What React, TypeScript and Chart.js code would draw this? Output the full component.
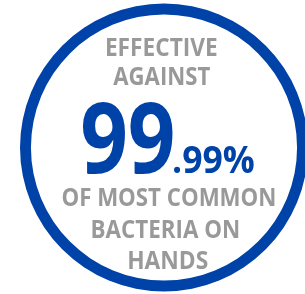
import React, { useEffect, useRef } from 'react';
import { Chart, registerables } from 'chart.js';

Chart.register(...registerables);

// ---- data ----
const ringLabels = ['Effective against bacteria'];
const ringValues = [100];
const headlineLines = ['EFFECTIVE', 'AGAINST'];
const percentWhole = '99';
const percentFraction = '.99%';
const footerLines = ['OF MOST COMMON', 'BACTERIA ON', 'HANDS'];

const BLUE = '#0043a8';
const GREY = '#999999';
const FAMILY = '"Open Sans", "Noto Sans", sans-serif';

type Box = { left: number; right: number; baseline: number; height: number };

function drawFitted(ctx: CanvasRenderingContext2D, text: string, box: Box, color: string) {
  ctx.save();
  ctx.textAlign = 'left';
  ctx.textBaseline = 'alphabetic';
  ctx.font = `bold 100px ${FAMILY}`;
  const m100 = ctx.measureText(text);
  const asc = m100.actualBoundingBoxAscent || 72;
  const size = (100 * box.height) / asc;
  ctx.font = `bold ${size}px ${FAMILY}`;
  const m = ctx.measureText(text);
  const inkW = m.actualBoundingBoxLeft + m.actualBoundingBoxRight;
  const sx = (box.right - box.left) / inkW;
  ctx.translate(box.left, box.baseline);
  ctx.scale(sx, 1);
  ctx.fillStyle = color;
  ctx.fillText(text, m.actualBoundingBoxLeft, 0);
  ctx.restore();
}

const textPlugin = {
  id: 'centerText',
  afterDraw(chart: any) {
    const arc = chart.getDatasetMeta(0).data[0];
    if (!arc) return;
    const cx = arc.x;
    const cy = arc.y;
    const ctx: CanvasRenderingContext2D = chart.ctx;
    const headBoxes: Box[] = [
      { left: cx - 57.3, right: cx + 52.7, baseline: cy - 91.8, height: 18.5 },
      { left: cx - 50.7, right: cx + 46, baseline: cy - 62.5, height: 18 },
    ];
    headlineLines.forEach((t, i) => drawFitted(ctx, t, headBoxes[i], GREY));
    drawFitted(ctx, percentWhole, { left: cx - 81.3, right: cx + 8.7, baseline: cy + 25, height: 72 }, BLUE);
    drawFitted(ctx, percentFraction, { left: cx + 10, right: cx + 90, baseline: cy + 25, height: 27.5 }, BLUE);
    const footBoxes: Box[] = [
      { left: cx - 101.7, right: cx + 111, baseline: cy + 58.5, height: 18.5 },
      { left: cx - 71.7, right: cx + 75, baseline: cy + 90.8, height: 18.3 },
      { left: cx - 35, right: cx + 43.7, baseline: cy + 121.5, height: 18 },
    ];
    footerLines.forEach((t, i) => drawFitted(ctx, t, footBoxes[i], GREY));
  },
};

export default function App() {
  const ref = useRef<HTMLCanvasElement | null>(null);
  useEffect(() => {
    if (!ref.current) return;
    const chart = new Chart(ref.current, {
      type: 'doughnut',
      data: {
        labels: ringLabels,
        datasets: [
          {
            data: ringValues,
            backgroundColor: BLUE,
            borderWidth: 0,
            clip: false as any,
          },
        ],
      },
      options: {
        animation: false,
        responsive: true,
        maintainAspectRatio: false,
        events: [],
        radius: 144,
        cutout: '92.4%',
        layout: { padding: { left: 23, top: 1, right: 0, bottom: 0 } },
        plugins: {
          legend: { display: false },
          tooltip: { enabled: false },
          title: { display: false },
        },
      } as any,
      plugins: [textPlugin],
    });
    return () => chart.destroy();
  }, []);

  return (
    <div style={{ position: 'absolute', left: 0, top: 0, width: 305, height: 294, background: '#ffffff' }}>
      <canvas ref={ref} />
    </div>
  );
}
